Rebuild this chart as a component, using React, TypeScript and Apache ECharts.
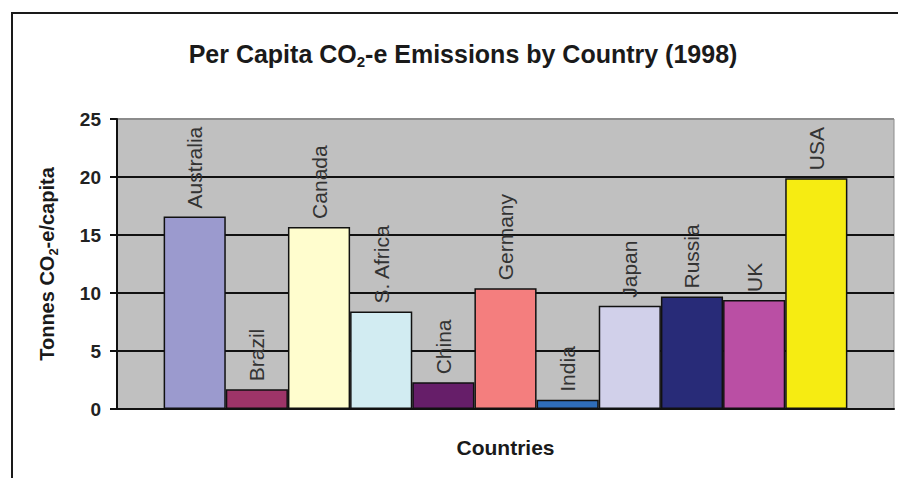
import React, { useEffect, useRef } from "react";
import * as echarts from "echarts";

const countries = ["Australia", "Brazil", "Canada", "S. Africa", "China", "Germany", "India", "Japan", "Russia", "UK", "USA"];
const emissions = [16.6, 1.7, 15.7, 8.4, 2.3, 10.4, 0.8, 8.9, 9.7, 9.4, 19.9];
const barColors = ["#9B9ACE", "#9E3468", "#FFFDCE", "#D2ECF2", "#661E69", "#F47E7E", "#2F6DBA", "#D1D0EA", "#282B78", "#BA4FA4", "#F6EC12"];
const yTicks = { min: 0, max: 25, interval: 5 };
const xCategory = [""];

const FONT = "'Liberation Sans', Arial, sans-serif";

export default function App() {
  const ref = useRef<HTMLDivElement>(null);
  useEffect(() => {
    if (!ref.current) return;
    const chart = echarts.init(ref.current, null, { renderer: "svg" });
    const series = countries.map((name, i) => ({
      name,
      type: "bar",
      data: [emissions[i]],
      barGap: "0%",
      barCategoryGap: "12%",
      itemStyle: { color: barColors[i], borderColor: "#111", borderWidth: 1.5 },
      label: {
        show: true,
        position: "top",
        rotate: 90,
        align: "left",
        verticalAlign: "middle",
        distance: 8,
        formatter: "{a}",
        fontFamily: FONT,
        fontSize: 21,
        color: "#333333",
      },
    }));
    chart.setOption({
      animation: false,
      backgroundColor: "#ffffff",
      title: {
        text: "Per Capita CO{sub|2}-e Emissions by Country (1998)",
        left: 458,
        top: 33,
        textAlign: "center",
        textStyle: {
          fontFamily: FONT,
          fontWeight: "bold",
          fontSize: 25,
          color: "#1a1a1a",
          lineHeight: 31,
          rich: {
            sub: { fontFamily: FONT, fontWeight: "bold", fontSize: 15, verticalAlign: "bottom", color: "#1a1a1a" },
          },
        },
      },
      graphic: [
        {
          type: "rect",
          shape: { x: 12, y: 13, width: 1000, height: 600 },
          style: { fill: "none", stroke: "#1a1a1a", lineWidth: 2 },
          silent: true,
        },
      ],
      grid: {
        left: 117,
        top: 119,
        right: 4,
        bottom: 69,
        show: true,
        backgroundColor: "#C0C0C0",
        borderColor: "#8c8c8c",
        borderWidth: 1,
      },
      xAxis: {
        type: "category",
        data: xCategory,
        name: "Countries",
        nameLocation: "middle",
        nameGap: 28,
        nameTextStyle: { fontFamily: FONT, fontWeight: "bold", fontSize: 21, color: "#1a1a1a" },
        axisLine: { show: true, lineStyle: { color: "#111", width: 2 } },
        axisTick: { show: false },
        axisLabel: { show: false },
      },
      yAxis: {
        type: "value",
        min: yTicks.min,
        max: yTicks.max,
        interval: yTicks.interval,
        name: "Tonnes CO{sub|2}-e/capita",
        nameLocation: "middle",
        nameRotate: 90,
        nameGap: 57,
        nameTextStyle: {
          fontFamily: FONT,
          fontWeight: "bold",
          fontSize: 20,
          color: "#1a1a1a",
          lineHeight: 27,
          rich: {
            sub: { fontFamily: FONT, fontWeight: "bold", fontSize: 13, verticalAlign: "bottom", color: "#1a1a1a" },
          },
        },
        axisLine: { show: true, lineStyle: { color: "#111", width: 2 } },
        axisTick: { show: true, inside: false, length: 7, lineStyle: { color: "#111", width: 2 } },
        axisLabel: { fontFamily: FONT, fontWeight: "bold", fontSize: 19, color: "#222", margin: 16 },
        splitLine: {
          show: true,
          lineStyle: { color: ["#111", "#111", "#111", "#111", "#111", "#8c8c8c"], width: 2 },
        },
      },
      series,
    });
    return () => chart.dispose();
  }, []);
  return <div ref={ref} style={{ position: "absolute", left: 0, top: 0, width: 898, height: 478 }} />;
}
